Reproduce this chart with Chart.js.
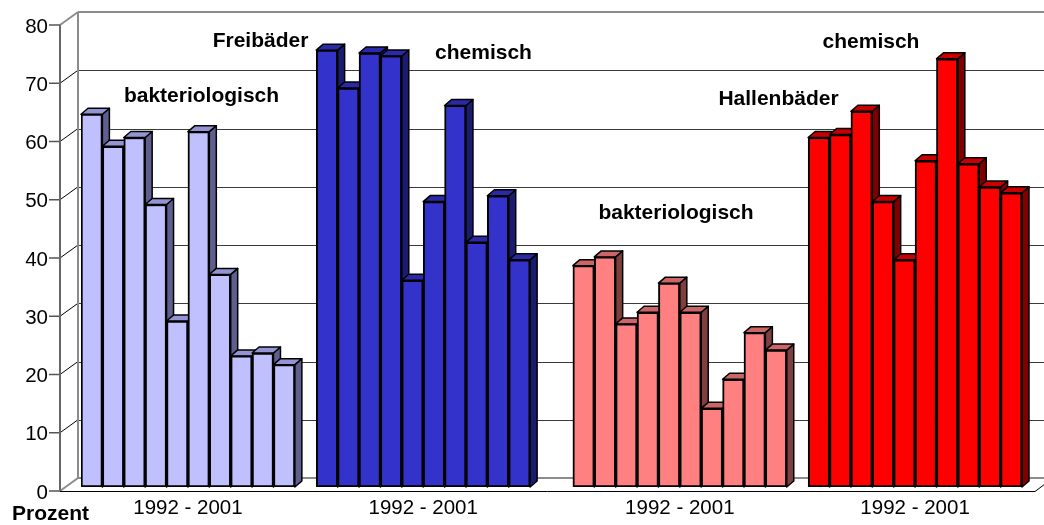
<!DOCTYPE html>
<html><head><meta charset="utf-8">
<script src="https://cdn.jsdelivr.net/npm/chart.js@4.4.1/dist/chart.umd.min.js"></script>
<style>html,body{margin:0;padding:0;background:#fff;}</style>
</head><body>
<canvas id="c" width="1044" height="525"></canvas>
<script>
// ---- data ----
const categoryLabels = ['1992 - 2001', '1992 - 2001', '1992 - 2001', '1992 - 2001'];
const years = ['1992','1993','1994','1995','1996','1997','1998','1999','2000','2001'];
const freibaederBakteriologisch   = [64, 58.5, 60, 48.5, 28.5, 61, 36.5, 22.5, 23, 21];
const freibaederChemisch          = [75, 68.5, 74.5, 74, 35.5, 49, 65.5, 42, 50, 39];
const hallenbaederBakteriologisch = [38, 39.5, 28, 30, 35, 30, 13.5, 18.5, 26.5, 23.5];
const hallenbaederChemisch        = [60, 60.5, 64.5, 49, 39, 56, 73.5, 55.5, 51.5, 50.5];
const blankSlotsAfter = [1, 2, 1];   // empty categories between the blocks in the original chart
const yTicks = [0, 10, 20, 30, 40, 50, 60, 70, 80];
const axisTitle = 'Prozent';
const annotations = ['bakteriologisch', 'Freibäder', 'chemisch', 'bakteriologisch', 'Hallenbäder', 'chemisch'];

// ---- styles ----
const FONT = '"Liberation Sans", Arial, sans-serif';
const frontCol = ['#C0C0FF', '#3333CC', '#FF8080', '#FF0000'];
const topCol   = ['#9494D4', '#2A2AA8', '#CC6666', '#C80000'];
const sideCol  = ['#5F5F8F', '#1C1C6E', '#7F3F3F', '#7F0000'];
const groups = [freibaederBakteriologisch, freibaederChemisch, hallenbaederBakteriologisch, hallenbaederChemisch];

// build the flat category list (one slot per year, blanks between blocks)
const labels = [], values = [], slotGroup = [];
groups.forEach((g, gi) => {
  g.forEach((v, i) => {
    labels.push(i === Math.floor((years.length - 1) / 2) ? categoryLabels[gi] : '');
    values.push(v);
    slotGroup.push(gi);
  });
  if (gi < blankSlotsAfter.length) {
    for (let k = 0; k < blankSlotsAfter[gi]; k++) { labels.push(''); values.push(null); slotGroup.push(-1); }
  }
});

const DX = 7, DY = 6;      // bar depth
const WX = 18, WY = 13;    // wall offset (front axis -> back wall)

const threeD = {
  id: 'threeD',
  beforeDatasetsDraw(chart) {
    const ctx = chart.ctx;
    const ys = chart.scales.y;
    const area = chart.chartArea;
    const axX = area.left - 21;          // front axis x
    const frontY = v => ys.getPixelForValue(v) + 4;
    const backY = v => frontY(v) - WY;
    const backX = axX + WX;
    const W = chart.width;
    const top = yTicks[yTicks.length - 1];
    ctx.save();
    yTicks.forEach(v => {
      const edge = (v === 0 || v === top);
      // back wall gridlines
      ctx.beginPath();
      ctx.strokeStyle = edge ? '#8c8c8c' : '#3a3a3a'; ctx.lineWidth = edge ? 2 : 1;
      const by = edge ? backY(v) : Math.round(backY(v)) + 0.5;
      ctx.moveTo(backX, by); ctx.lineTo(W, by); ctx.stroke();
      // side wall diagonals
      ctx.beginPath();
      ctx.strokeStyle = edge ? '#8c8c8c' : '#000'; ctx.lineWidth = edge ? 2 : 1;
      ctx.moveTo(axX, frontY(v)); ctx.lineTo(backX, backY(v)); ctx.stroke();
      // tick marks
      ctx.beginPath(); ctx.strokeStyle = '#555'; ctx.lineWidth = 1.5;
      ctx.moveTo(axX - 11, frontY(v)); ctx.lineTo(axX, frontY(v)); ctx.stroke();
    });
    // back wall left edge
    ctx.beginPath(); ctx.strokeStyle = '#8c8c8c'; ctx.lineWidth = 2;
    ctx.moveTo(backX, backY(top)); ctx.lineTo(backX, backY(0)); ctx.stroke();
    // front axis
    ctx.beginPath(); ctx.strokeStyle = '#666'; ctx.lineWidth = 2;
    ctx.moveTo(axX, frontY(top)); ctx.lineTo(axX, frontY(0)); ctx.stroke();
    // floor front edge
    ctx.beginPath(); ctx.strokeStyle = '#000'; ctx.lineWidth = 1;
    const fy = Math.round(frontY(0)) + 0.5;
    ctx.moveTo(axX, fy); ctx.lineTo(area.right + 13, fy);
    ctx.lineTo(area.right + 25, fy - 9); ctx.stroke();

    // bar top + side faces (left to right)
    const meta = chart.getDatasetMeta(0);
    meta.data.forEach((bar, i) => {
      if (values[i] === null) return;
      const gi = slotGroup[i];
      const p = bar.getProps(['x', 'y', 'base', 'width'], true);
      const l = p.x - p.width / 2, r = p.x + p.width / 2;
      ctx.lineWidth = 1.5; ctx.strokeStyle = '#000'; ctx.lineJoin = 'round';
      ctx.beginPath();
      ctx.moveTo(r, p.y); ctx.lineTo(r + DX, p.y - DY); ctx.lineTo(r + DX, p.base - DY); ctx.lineTo(r, p.base); ctx.closePath();
      ctx.fillStyle = sideCol[gi]; ctx.fill(); ctx.stroke();
      ctx.beginPath();
      ctx.moveTo(l, p.y); ctx.lineTo(r, p.y); ctx.lineTo(r + DX, p.y - DY); ctx.lineTo(l + DX, p.y - DY); ctx.closePath();
      ctx.fillStyle = topCol[gi]; ctx.fill(); ctx.stroke();
    });
    ctx.restore();
  },
  afterDraw(chart) {
    const ctx = chart.ctx;
    ctx.save();
    ctx.fillStyle = '#000';
    ctx.textBaseline = 'alphabetic';
    ctx.font = 'bold 21px ' + FONT;
    ctx.textAlign = 'center';
    const pos = [[201.5, 102], [260.5, 47], [483.5, 59], [676, 219], [778.5, 105], [871, 48]];
    annotations.forEach((t, i) => ctx.fillText(t, pos[i][0], pos[i][1]));
    ctx.textAlign = 'left';
    ctx.fillText(axisTitle, 12, 520);
    ctx.restore();
  }
};

new Chart(document.getElementById('c'), {
  type: 'bar',
  data: {
    labels,
    datasets: [{
      label: 'Prozent',
      data: values,
      backgroundColor: slotGroup.map(g => g < 0 ? 'rgba(0,0,0,0)' : frontCol[g]),
      borderColor: '#000',
      borderWidth: 2,
      borderSkipped: false,
      categoryPercentage: 1.0,
      barPercentage: 1.0
    }]
  },
  options: {
    responsive: false,
    animation: false,
    layout: { padding: { top: 21, right: 22, left: 0, bottom: 0 } },
    plugins: { legend: { display: false }, tooltip: { enabled: false }, title: { display: false } },
    scales: {
      x: {
        grid: { display: false, drawTicks: false },
        border: { display: false },
        ticks: { color: '#000', font: { family: FONT, size: 20.5 }, padding: 9, maxRotation: 0, minRotation: 0, autoSkip: false, labelOffset: 10.7 },
        afterFit: s => { s.height = 38; s.paddingLeft = 0; s.paddingRight = 0; }
      },
      y: {
        min: 0, max: 80,
        afterBuildTicks: s => { s.ticks = yTicks.map(v => ({ value: v })); },
        grid: { display: false, drawTicks: false },
        border: { display: false },
        ticks: { color: '#000', font: { family: FONT, size: 20.5 }, padding: 33, labelOffset: 6 },
        afterFit: s => { s.width = 81; s.paddingTop = 0; s.paddingBottom = 0; }
      }
    }
  },
  plugins: [threeD]
});
</script>
</body></html>
